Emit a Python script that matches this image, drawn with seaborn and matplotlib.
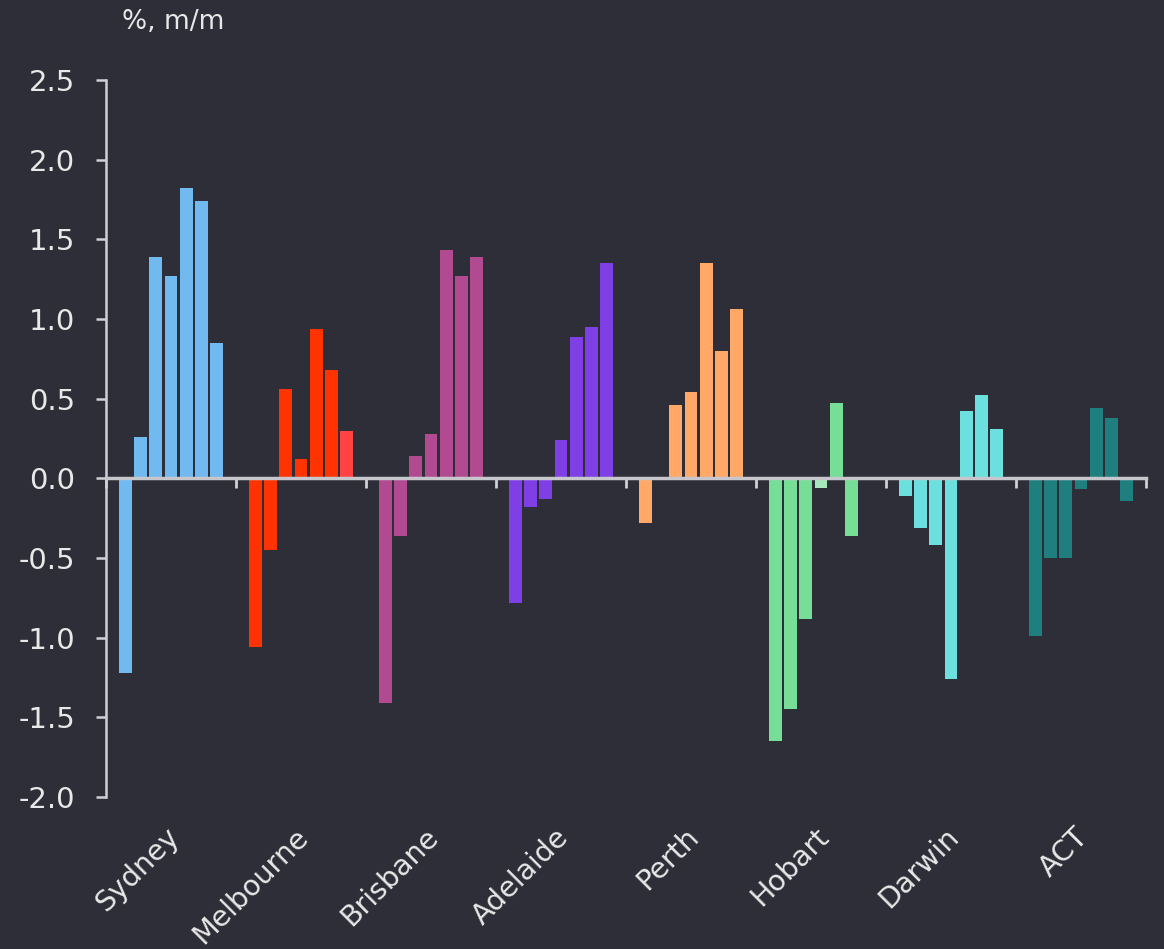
import numpy as np
import pandas as pd
import matplotlib
matplotlib.use("Agg")
import matplotlib.pyplot as plt
import matplotlib.transforms as mtransforms
import seaborn as sns

# --- data, % m/m, seven periods per city ---
CITIES = ["Sydney", "Melbourne", "Brisbane", "Adelaide", "Perth", "Hobart", "Darwin", "ACT"]
PERIODS = ["1", "2", "3", "4", "5", "6", "7"]
sydney = [-1.22, 0.26, 1.39, 1.27, 1.82, 1.74, 0.85]
melbourne = [-1.06, -0.45, 0.56, 0.12, 0.94, 0.68, 0.30]
brisbane = [-1.41, -0.36, 0.14, 0.28, 1.43, 1.27, 1.39]
adelaide = [-0.78, -0.18, -0.13, 0.24, 0.89, 0.95, 1.35]
perth = [-0.28, 0.0, 0.46, 0.54, 1.35, 0.80, 1.06]
hobart = [-1.65, -1.45, -0.88, -0.06, 0.47, -0.36, 0.0]
darwin = [-0.11, -0.31, -0.42, -1.26, 0.42, 0.52, 0.31]
act = [-0.99, -0.50, -0.50, -0.07, 0.44, 0.38, -0.14]

CITY_COLORS = ["#70BAF0", "#FF3300", "#B24A91", "#7F3FE4", "#FFA868", "#77DE97", "#6CE0DE", "#1F7F7E"]
# a couple of bars are drawn in a lighter shade in the original
HIGHLIGHT = {("Melbourne", "7"): "#FF4343", ("Hobart", "4"): "#A8E8BC"}

BG = "#2E2E38"
FG = "#E8E8E8"
AXIS = "#D0D0D6"

values = [sydney, melbourne, brisbane, adelaide, perth, hobart, darwin, act]
rows = []
for city, vals in zip(CITIES, values):
    for period, v in zip(PERIODS, vals):
        rows.append({"city": city, "period": period, "value": v})
df = pd.DataFrame(rows)

# --- style ---
sns.set_theme(style="dark", rc={
    "figure.facecolor": BG,
    "axes.facecolor": BG,
    "savefig.facecolor": BG,
    "text.color": FG,
    "axes.labelcolor": FG,
    "xtick.color": AXIS,
    "ytick.color": AXIS,
})
plt.rcParams["font.family"] = ["DejaVu Sans"]

fig = plt.figure(figsize=(11.64, 9.49), dpi=100)
ax = fig.add_axes([0.0911, 0.1602, 0.8934, 0.7555])

sns.barplot(data=df, x="city", y="value", hue="period", order=CITIES, hue_order=PERIODS,
            width=0.82, gap=0.16, errorbar=None, legend=False, ax=ax)

# recolor bars by city
slot_w = 0.82 / len(PERIODS)
for p in ax.patches:
    xc = p.get_x() + p.get_width() / 2
    ci = int(round(xc))
    si = int(round((xc - ci) / slot_w + (len(PERIODS) - 1) / 2))
    key = (CITIES[ci], PERIODS[si])
    p.set_facecolor(HIGHLIGHT.get(key, CITY_COLORS[ci]))
    p.set_edgecolor("none")

# --- axes ---
ax.set_ylim(-2.0, 2.5)
ax.set_xlim(-0.5, len(CITIES) - 0.5)
ax.set_yticks(np.arange(-2.0, 2.51, 0.5))
ax.set_yticklabels([f"{t:.1f}" for t in np.arange(-2.0, 2.51, 0.5)], color=FG, fontsize=21)
ax.tick_params(axis="y", direction="out", length=7, width=1.8, pad=15, left=True)

ax.spines["bottom"].set_position(("data", 0))
ax.set_xticks(np.arange(-0.5, len(CITIES), 1.0))
ax.set_xticklabels([])
ax.tick_params(axis="x", direction="out", length=7, width=2, bottom=True)

for s in ["top", "right"]:
    ax.spines[s].set_visible(False)
ax.spines["left"].set_color(AXIS)
ax.spines["left"].set_linewidth(1.8)
ax.spines["bottom"].set_color("#C6C6CC")
ax.spines["bottom"].set_linewidth(2.5)
ax.spines["bottom"].set_zorder(5)
ax.set_xlabel("")
ax.set_ylabel("")
ax.grid(False)

# city labels below the plot
trans = mtransforms.blended_transform_factory(ax.transData, ax.transAxes)
for i, city in enumerate(CITIES):
    ax.text(i - 0.05, -0.036, city, transform=trans, rotation=45, ha="right", va="top",
            rotation_mode="anchor", fontsize=20.5, color=FG)

fig.text(122 / 1164, 1 - 22 / 949, "%, m/m", fontsize=19, color=FG, ha="left", va="center")

fig.savefig("out.png", dpi=100)
